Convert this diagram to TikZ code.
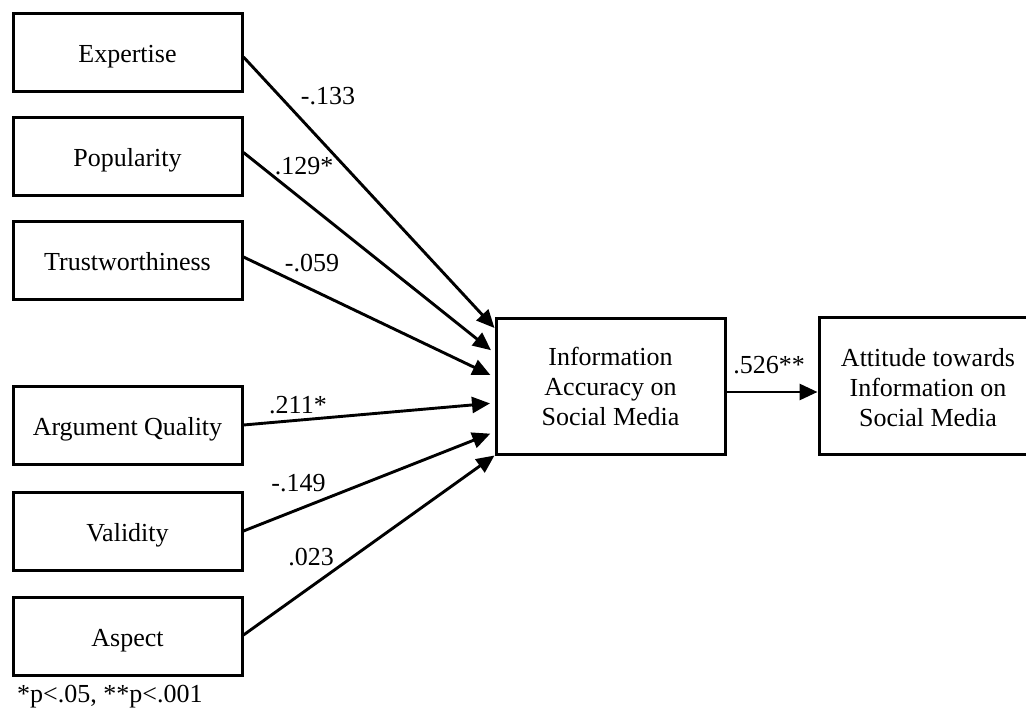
\documentclass[tikz,border=0pt]{standalone}
\usepackage{fontspec}
\setmainfont{Liberation Serif}
\usetikzlibrary{arrows.meta}
\begin{document}
\begin{tikzpicture}[x=1pt,y=-1pt,
  every node/.style={font=\fontsize{26}{30}\selectfont},
  box/.style={draw, line width=3pt, rectangle, inner sep=0pt, minimum width=229pt},
  lbox/.style={box, minimum height=78pt, text height=25pt, text depth=5pt},
  cbox/.style={box, minimum height=136pt, align=center},
  lab/.style={inner sep=0pt},
  conn/.style={line width=2.9pt, -{Triangle[length=18pt,width=16pt]}},
  gap/.style={shorten >=4.5pt}]
\useasboundingbox (0,0) rectangle (1026,709);
\clip (0,0) rectangle (1026,709);
\fill[white] (0,0) rectangle (1026,709);
% left boxes
\node[lbox] (exp) at (127.5,53) {Expertise};
\node[lbox] (pop) at (127.5,156.5) {Popularity};
\node[lbox] (tru) at (127.5,260) {Trustworthiness};
\node[lbox] (arg) at (127.5,425) {Argument Quality};
\node[lbox] (val) at (127.5,531) {Validity};
\node[lbox] (asp) at (127.5,636) {Aspect};
% center box
\node[cbox] (ia) at (610.5,386) {Information\\Accuracy on\\Social Media};
% right box (extends beyond the right margin)
\node[box, minimum width=250pt, minimum height=137pt] (attbox) at (944,385.5) {};
\node[lab, align=center] (att) at (928,388) {Attitude towards\\Information on\\Social Media};
% connectors
\draw[conn] ([yshift=-4pt]exp.east) -- ([yshift=58pt]ia.west);
\draw[conn, gap] ([yshift=4pt]pop.east) -- ([yshift=33pt]ia.west);
\draw[conn, gap] ([yshift=3pt]tru.east) -- ([yshift=9pt]ia.west);
\draw[conn, gap] (arg.east) -- ([yshift=-17pt]ia.west);
\draw[conn, gap] (val.east) -- ([yshift=-46pt]ia.west);
\draw[conn] ([yshift=1pt]asp.east) -- (ia.south west);
\draw[conn] ([yshift=-6pt]ia.east) -- ([yshift=-6.5pt]attbox.west);
% labels
\node[lab] (l1) at (328,96) {-.133};
\node[lab] (l2) at (304,166) {.129*};
\node[lab] (l3) at (312,263.5) {-.059};
\node[lab] (l4) at (298,405) {.211*};
\node[lab] (l5) at (298.5,483) {-.149};
\node[lab] (l6) at (311,557) {.023};
\node[lab] (l7) at (769,365) {.526**};
\node[lab, anchor=base west] (note) at (17,702) {*p<.05, **p<.001};
\end{tikzpicture}
\end{document}
